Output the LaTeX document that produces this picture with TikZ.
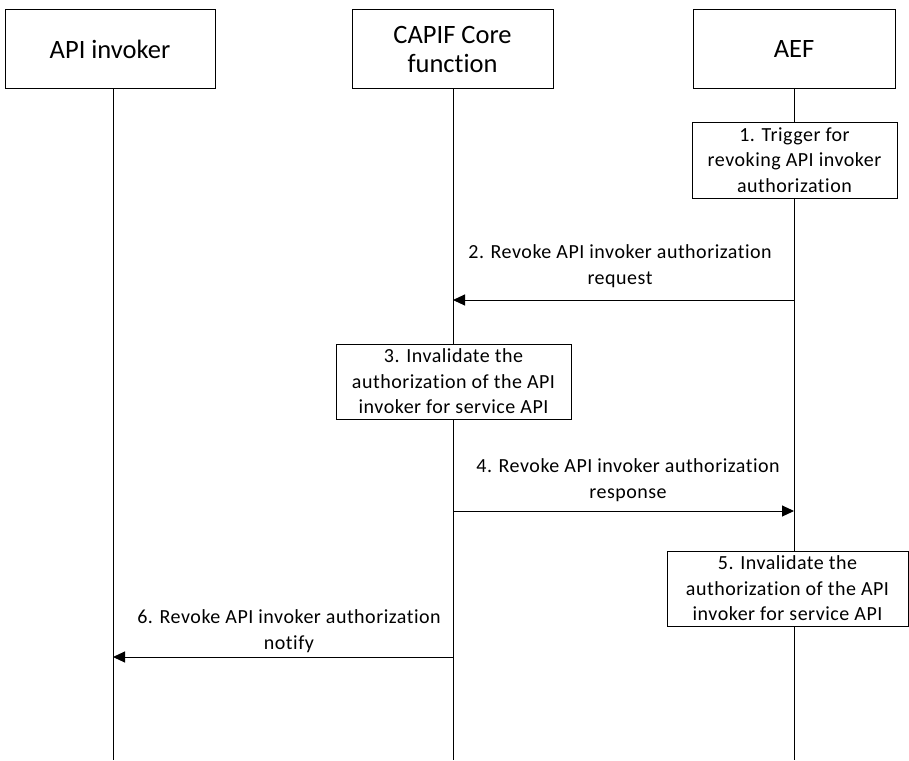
\documentclass[tikz,border=0pt]{standalone}
\usepackage{fontspec}
\setmainfont{Carlito}[Ligatures={NoCommon}]
\newfontfamily\spacedfont{Carlito}[Ligatures={NoCommon},LetterSpace=2.5]
\usetikzlibrary{arrows.meta}
\begin{document}
\begin{tikzpicture}[x=1pt,y=-1pt,
  actorbox/.style={draw, line width=1pt, fill=white, align=center, inner sep=0pt,
    minimum height=78pt, font=\fontsize{26.5}{29}\selectfont},
  stepbox/.style={draw, line width=1pt, fill=white, align=center, inner sep=0pt,
    minimum height=76pt, font=\spacedfont\fontsize{20}{25.5}\selectfont},
  lifeline/.style={line width=1pt},
  msg/.style={line width=1pt, -{Triangle[length=12pt,width=11pt]}},
  msglabel/.style={align=center, inner sep=0pt, font=\spacedfont\fontsize{20}{26}\selectfont}]
\useasboundingbox (0,0) rectangle (909,760);
% actors
\node[actorbox, minimum width=210pt] (inv) at (110,49) {API invoker};
\node[actorbox, minimum width=201pt] (core) at (452.5,49) {CAPIF Core\\function};
\node[actorbox, minimum width=202pt] (aef) at (794,49) {AEF};
% lifeline ends
\coordinate (invEnd) at (113,760);
\coordinate (coreEnd) at (453,760);
\coordinate (aefEnd) at (794,760);
\draw[lifeline] (inv.south -| invEnd) -- (invEnd);
\draw[lifeline] (core.south -| coreEnd) -- (coreEnd);
\draw[lifeline] (aef.south -| aefEnd) -- (aefEnd);
% step boxes
\node[stepbox, minimum width=205pt] (s1) at (794.5,160) {1. Trigger for\\revoking API invoker\\authorization};
\node[stepbox, minimum width=235pt, minimum height=75pt] (s3) at (453.5,381.5) {3. Invalidate the\\authorization of the API\\invoker for service API};
\node[stepbox, minimum width=241pt, minimum height=75pt] (s5) at (787.5,588.5) {5. Invalidate the\\authorization of the API\\invoker for service API};
% message endpoints
\coordinate (m2a) at (794,300);
\coordinate (m2b) at (453,300);
\coordinate (m4a) at (453,511);
\coordinate (m4b) at (794,511);
\coordinate (m6a) at (453,657);
\coordinate (m6b) at (113,657);
\draw[msg] (m2a) -- (m2b);
\draw[msg] (m4a) -- (m4b);
\draw[msg] (m6a) -- (m6b);
\node[msglabel] (l2) at (620,266) {2. Revoke API invoker authorization\\request};
\node[msglabel] (l4) at (628,480) {4. Revoke API invoker authorization\\response};
\node[msglabel] (l6) at (289,631) {6. Revoke API invoker authorization\\notify};
\end{tikzpicture}
\end{document}
